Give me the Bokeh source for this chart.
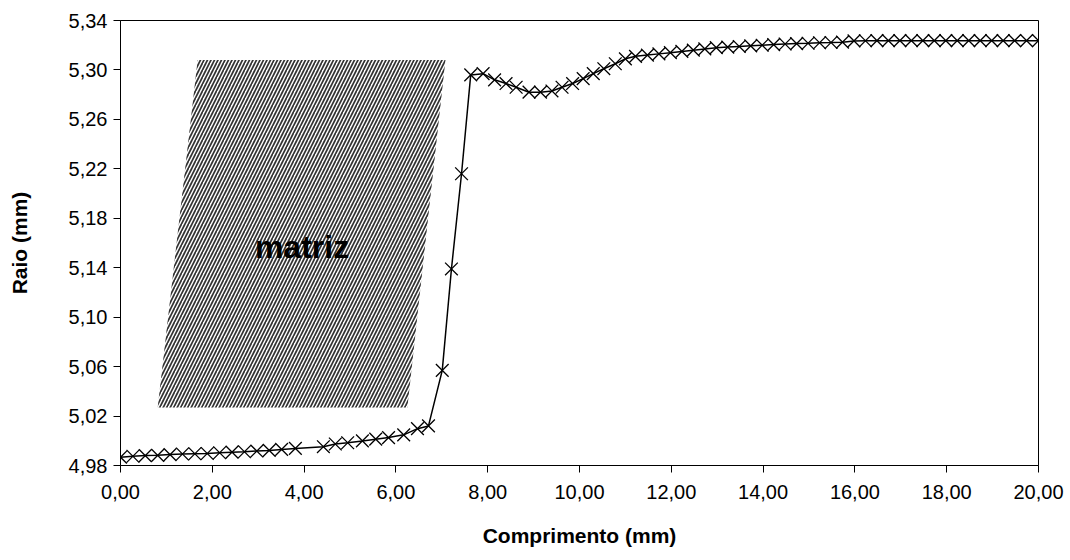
from bokeh.plotting import figure
from bokeh.models import Range1d, FixedTicker, CustomJSTickFormatter, Label
from bokeh.embed import file_html
from bokeh.resources import INLINE

# ---- data ----
comprimento = [0.00, 0.27, 0.54, 0.81, 1.08, 1.35, 1.62, 1.89, 2.16, 2.43, 2.70, 2.97, 3.24, 3.51, 3.81,
               4.42, 4.68, 4.95, 5.27, 5.56, 5.84, 6.17, 6.47, 6.71,
               7.01, 7.21, 7.43, 7.63, 7.90, 8.15, 8.40, 8.62, 8.90, 9.15, 9.40, 9.62, 9.85,
               10.08, 10.30, 10.53, 10.78, 11.00, 11.22, 11.48,
               11.73, 11.98, 12.23, 12.48, 12.73, 12.98, 13.23, 13.48, 13.73, 13.98, 14.23, 14.48,
               14.73, 14.98, 15.23, 15.48, 15.73, 15.98, 16.23, 16.48, 16.73, 16.98, 17.23, 17.48,
               17.73, 17.98, 18.23, 18.48, 18.73, 18.98, 19.23, 19.48, 19.74, 20.00]
raio = [4.9867, 4.9875, 4.9880, 4.9882, 4.9888, 4.9893, 4.9895, 4.9897, 4.9903, 4.9908, 4.9911, 4.9917, 4.9922, 4.9930, 4.9938,
        4.9952, 4.9974, 4.9984, 4.9999, 5.0013, 5.0026, 5.0048, 5.0098, 5.0120,
        5.0570, 5.1390, 5.2160, 5.2960, 5.2970, 5.2920, 5.2890, 5.2860, 5.2820, 5.2820, 5.2830, 5.2860, 5.2890,
        5.2930, 5.2970, 5.3010, 5.3050, 5.3090, 5.3110, 5.3120,
        5.3130, 5.3140, 5.3150, 5.3160, 5.3170, 5.3180, 5.3185, 5.3190, 5.3195, 5.3200, 5.3205, 5.3210,
        5.3213, 5.3216, 5.3220, 5.3222, 5.3225, 5.3235, 5.3236, 5.3237, 5.3237, 5.3237, 5.3237, 5.3237,
        5.3237, 5.3237, 5.3237, 5.3237, 5.3237, 5.3237, 5.3237, 5.3237, 5.3237, 5.3237]

x_ticks = [0, 2, 4, 6, 8, 10, 12, 14, 16, 18, 20]
y_ticks = [4.98, 5.02, 5.06, 5.10, 5.14, 5.18, 5.22, 5.26, 5.30, 5.34]

# hatched "matriz" region (parallelogram corners)
matriz_x = [1.68, 7.08, 6.25, 0.81]
matriz_y = [5.308, 5.308, 5.027, 5.027]
matriz_label = "matriz"

FONT = "Liberation Sans"

p = figure(width=1070, height=560, output_backend="svg", toolbar_location=None,
           x_range=Range1d(0, 20), y_range=Range1d(4.98, 5.34),
           min_border_left=120, min_border_right=32, min_border_top=20, min_border_bottom=95)

p.background_fill_color = "white"
p.border_fill_color = "white"
p.outline_line_color = "black"
p.outline_line_width = 1
p.xgrid.visible = False
p.ygrid.visible = False

# hatched region
p.patch(matriz_x, matriz_y, fill_color="white", fill_alpha=0.0, line_color=None,
        hatch_pattern="/", hatch_scale=7, hatch_weight=1.7, hatch_color="#333333")

p.add_layout(Label(x=(matriz_x[0] + matriz_x[1] + matriz_x[2] + matriz_x[3]) / 4,
                   y=(matriz_y[0] + matriz_y[2]) / 2 - 0.0105,
                   text=matriz_label, text_font=FONT, text_font_style="bold",
                   text_font_size="32px", text_align="center", text_baseline="middle",
                   text_color="black"))

# data
p.line(comprimento, raio, line_color="black", line_width=1.5)
p.scatter(comprimento, raio, marker="x", size=18, line_color="black", line_width=1.3)

fmt = CustomJSTickFormatter(code="return tick.toFixed(2).replace('.', ',');")
for ax, ticks in ((p.xaxis[0], x_ticks), (p.yaxis[0], y_ticks)):
    ax.ticker = FixedTicker(ticks=ticks)
    ax.formatter = fmt
    ax.minor_tick_line_color = None
    ax.major_tick_in = 0
    ax.major_tick_out = 7
    ax.axis_line_color = "black"
    ax.major_tick_line_color = "black"
    ax.major_label_text_font = FONT
    ax.major_label_text_font_size = "20px"
    ax.major_label_text_color = "black"
    ax.axis_label_text_font = FONT
    ax.axis_label_text_font_size = "21px"
    ax.axis_label_text_font_style = "bold"
    ax.axis_label_text_color = "black"

p.xaxis.axis_label = "Comprimento (mm)"
p.yaxis.axis_label = "Raio (mm)"
p.xaxis.major_label_standoff = 12
p.xaxis.axis_label_standoff = 22
p.yaxis.major_label_standoff = 6
p.yaxis.axis_label_standoff = 35

open("out.html", "w").write(file_html(p, INLINE))
